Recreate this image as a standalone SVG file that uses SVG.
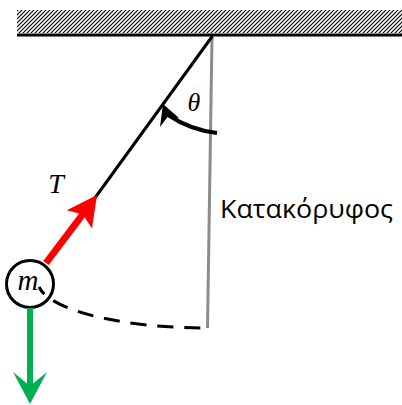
<svg xmlns="http://www.w3.org/2000/svg" width="402" height="405" viewBox="0 0 402 405">
  <defs>
    <pattern id="hatch" patternUnits="userSpaceOnUse" width="4" height="4">
      <path d="M-1,1 L1,-1 M0,4 L4,0 M3,5 L5,3" stroke="#000" stroke-width="1.1"/>
    </pattern>
  </defs>
  <style>
    .serif-it { font-family: "Liberation Serif", "DejaVu Serif", serif; font-style: italic; fill: #000; }
    .sans { font-family: "Open Sans", "Liberation Sans", sans-serif; fill: #000; }
    .blk { stroke: #000; fill: none; }
  </style>
  <rect x="0" y="0" width="402" height="405" fill="#fff"/>

  <g id="ceiling">
    <rect x="17" y="10" width="385" height="23" fill="url(#hatch)"/>
    <line x1="17" y1="35" x2="402" y2="35" stroke="#000" stroke-width="3"/>
  </g>

  <g id="connectors">
    <line id="vertical" x1="212" y1="36" x2="207.5" y2="328" stroke="#8c8c8c" stroke-width="3"/>
    <line id="string" x1="212.5" y1="36" x2="84" y2="213" stroke="#000" stroke-width="3"/>
    <path id="path-arc" d="M39,287 C50,310 120,328 207,328" class="blk" stroke-width="3" stroke-dasharray="16,11" stroke-dashoffset="7"/>
  </g>

  <g id="angle">
    <path d="M217,133 C200,131 183,125 168,115" class="blk" stroke-width="4"/>
    <polygon points="163,104 179,118 167.5,117 160,127" fill="#000"/>
    <text x="194" y="111" class="serif-it" font-size="26" text-anchor="middle">θ</text>
  </g>

  <g id="mass">
    <circle cx="30" cy="284" r="23.5" fill="none" stroke="#000" stroke-width="3"/>
    <text x="28" y="290" class="serif-it" font-size="29" text-anchor="middle">m</text>
  </g>

  <g id="tension">
    <line x1="46" y1="263" x2="83" y2="214" stroke="#ff0000" stroke-width="7"/>
    <polygon points="97,195 92,228.4 82.9,214.4 66.8,210.2" fill="#ff0000"/>
    <text x="56" y="193" class="serif-it" font-size="28" text-anchor="middle">T</text>
  </g>

  <g id="weight">
    <line x1="30" y1="308" x2="30" y2="388" stroke="#00b050" stroke-width="6"/>
    <polygon points="30,404 47,372 30,386 13,372" fill="#00b050"/>
  </g>

  <g id="label-vertical">
    <text x="220" y="218" class="sans" font-size="25" textLength="173" lengthAdjust="spacingAndGlyphs">Κατακόρυφος</text>
  </g>
</svg>
